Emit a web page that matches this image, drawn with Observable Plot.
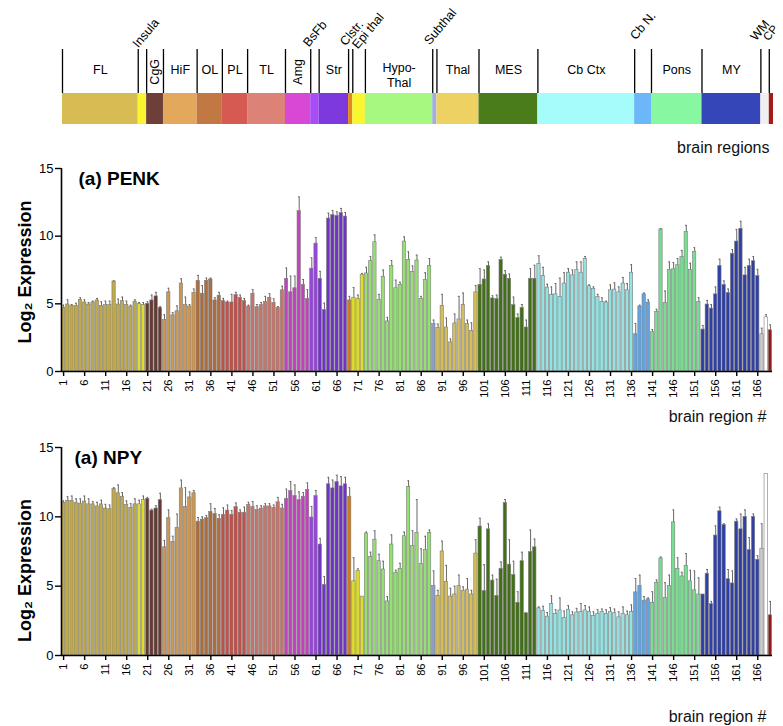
<!DOCTYPE html>
<html><head><meta charset="utf-8">
<script src="https://cdn.jsdelivr.net/npm/d3@7"></script>
<script src="https://cdn.jsdelivr.net/npm/@observablehq/plot@0.6"></script>
<style>
body{margin:0;background:#fff;}
#wrap{width:783px;}
#wrap svg{display:block;}
</style></head><body><div id="wrap"></div>
<script>
// ---------- data ----------
const regionNames = ["FL","Insula","CgG","HiF","OL","PL","TL","Amg","BsFb","Str","Clstr.","Epi thal","Hypo-\nThal","Subthal","Thal","MES","Cb Ctx","Cb N.","Pons","MY","WM","CP"];
const regionFirst = [1,19,21,25,33,39,45,54,60,62,69,70,73,89,90,100,114,137,141,153,167,169];
const regionColors = ["#d6bc52","#f9f52e","#6e3f38","#e4a85c","#c27842","#d65a52","#dc8276","#d948d4","#a84cf5","#7d38de","#e5881c","#f9f52e","#a6f880","#9fb0dc","#edd263","#4a7d1a","#a6fbfb","#6cb6fa","#88f7a2","#3446b8","#efefef","#a41c18"];
const regionLabelKind = ["h","r","v","h","h","h","h","v","r","h","r","r","h","r","h","h","h","r","h","h","r","r"];
const wmBarFills = ["#cdcdcd","#ffffff"];

const penk = [
4.7,4.95,4.85,4.85,5.3,5.1,4.95,5.1,5.25,4.85,
4.9,4.9,6.65,4.95,5.2,4.9,4.8,5.15,5.0,4.9,
5.0,5.25,5.55,4.7,3.8,5.85,4.15,4.45,6.5,4.9,
4.8,5.8,6.7,5.75,6.7,6.8,5.25,5.6,5.2,5.1,
5.1,5.65,5.45,5.2,4.8,5.75,4.75,4.9,5.15,5.45,
5.07,4.7,6.0,6.85,5.85,6.15,11.85,6.4,5.35,7.6,
9.45,6.85,4.55,11.3,11.55,11.5,11.7,11.45,5.25,5.45,
5.35,7.15,7.25,8.15,9.55,5.3,7.0,3.7,7.8,6.15,
6.4,9.6,8.25,7.35,8.2,5.35,6.75,7.8,3.5,3.2,
4.85,3.25,2.15,3.55,3.85,4.9,3.5,3.0,5.85,6.4,
6.8,7.8,5.4,5.35,8.25,7.15,6.85,4.9,3.95,4.7,
3.25,6.85,6.85,7.95,7.05,6.2,5.65,5.7,5.5,6.5,
7.3,7.1,7.5,7.3,8.3,6.3,6.1,5.5,5.15,5.1,
6.0,6.05,5.85,6.5,6.0,7.3,2.75,4.8,5.7,5.1,
2.9,4.4,10.5,5.05,7.5,7.55,7.85,8.45,10.3,7.5,
8.85,5.15,3.1,4.95,4.65,5.7,7.8,6.4,5.8,8.7,
9.6,10.55,7.1,7.8,8.15,7.05,2.75,4.0,3.05];
const penkErr = [
0.2,0.35,0.1,0.2,0.15,0.2,0.15,0.1,0.15,0.3,
0.3,0.3,0.05,0.4,0.3,0.3,0.1,0.15,0.1,0.2,
0.15,0.4,0.3,0.1,0.4,0.3,0.2,0.4,0.35,0.6,
0.15,0.3,0.4,0.6,0.2,0.1,0.2,0.25,0.2,0.1,
0.6,0.2,0.2,0.2,0.1,0.3,0.2,0.2,0.4,0.3,
0.3,0.1,0.3,0.8,1.2,0.9,1.05,0.4,0.7,0.8,
0.45,0.55,0.5,0.4,0.35,0.3,0.35,0.3,0.3,0.75,
0.3,0.1,0.45,0.35,0.55,0.4,0.5,0.3,0.4,0.6,
0.2,0.35,0.6,0.45,0.4,0.2,0.55,0.55,0.3,0.3,
0.85,0.7,0.25,0.7,1.7,0.9,0.3,0.6,0.5,1.2,
0.7,0.3,0.2,0.3,0.2,0.3,0.35,0.6,0.3,0.25,
0.55,0.75,1.0,0.6,0.65,0.25,0.6,0.8,1.4,0.8,
0.3,0.4,0.6,0.8,0.2,0.1,0.15,0.2,0.3,0.1,
0.4,0.5,0.4,0.45,0.5,0.6,0.8,0.1,0.1,0.2,
0.2,0.2,0.05,0.9,0.6,0.5,0.5,0.5,0.5,0.5,
0.3,0.3,0.3,0.3,0.3,0.55,0.5,0.3,0.3,0.3,
0.9,0.55,0.6,0.5,0.35,0.5,0.45,0.2,0.4];

const npy = [
11.0,11.15,11.15,11.0,10.95,11.1,10.9,10.9,10.75,10.9,
10.6,10.55,12.0,11.7,11.45,10.85,10.65,10.9,10.9,11.2,
11.3,10.45,10.6,11.2,7.8,9.9,8.2,9.2,12.05,10.7,
11.4,11.7,9.65,9.8,9.9,10.35,10.2,9.85,10.15,10.45,
10.15,10.7,10.3,10.3,10.85,10.7,10.5,10.6,10.75,10.75,
10.65,11.05,10.6,11.3,11.85,11.5,11.2,11.45,11.95,9.95,
11.5,8.0,5.1,12.35,12.05,12.5,12.2,12.35,11.45,5.35,
6.1,4.25,8.8,7.1,8.35,6.8,6.2,3.9,8.0,5.95,
6.25,8.6,12.15,7.9,8.85,6.6,7.6,8.85,5.0,4.3,
7.5,5.3,4.25,4.4,5.0,4.65,4.75,4.4,7.35,9.3,
4.65,9.1,5.4,4.3,6.25,11.0,6.55,5.8,3.8,6.8,
3.05,7.45,7.8,3.4,3.2,2.8,3.7,3.0,3.25,2.7,
3.3,2.9,3.1,3.15,3.25,3.15,2.85,3.0,3.15,3.0,
3.15,3.05,2.75,3.0,2.9,3.15,4.55,5.0,3.95,4.05,
3.8,5.25,7.0,4.15,5.0,9.6,6.25,5.7,6.45,5.35,
4.7,4.4,4.4,5.9,3.7,8.65,10.4,9.4,5.5,5.2,
9.65,9.1,10.0,7.6,10.0,6.9,7.7,13.1,2.9];
const npyErr = [
0.15,0.3,0.35,0.3,0.35,0.4,0.4,0.2,0.3,0.3,
0.3,0.3,0.1,0.6,0.3,0.3,0.3,0.4,0.3,0.3,
0.1,0.1,0.2,0.5,0.5,0.6,0.4,1.0,0.6,1.4,
0.4,0.2,0.3,0.2,0.2,0.6,0.4,0.3,0.5,0.4,
0.3,0.3,0.2,0.4,0.2,0.4,0.3,0.2,0.2,0.2,
0.2,0.35,0.3,0.7,0.7,0.8,0.6,0.3,0.5,0.8,
0.4,0.45,0.6,0.5,0.6,0.5,0.7,0.5,0.65,1.7,
0.15,0.0,0.1,0.35,0.65,0.5,0.6,0.35,0.7,0.2,
0.4,0.3,0.45,1.1,2.4,1.1,1.0,0.2,1.1,0.4,
0.75,1.2,0.6,0.6,0.8,0.3,0.8,0.3,1.0,0.6,
1.9,0.4,0.4,1.2,0.5,0.25,1.8,1.0,0.8,0.65,
0.0,1.6,0.6,0.1,0.35,0.3,0.6,0.3,0.9,0.5,
0.3,0.25,0.3,0.6,0.35,0.35,0.3,0.3,0.2,0.3,
0.3,0.3,0.4,0.5,0.3,0.5,1.0,0.8,0.3,0.1,
0.8,0.2,0.1,1.1,0.8,0.9,0.8,0.3,0.9,0.8,
1.4,1.2,0.0,0.3,0.2,0.7,0.3,0.1,0.7,0.9,
0.2,1.1,0.5,0.9,0.2,0.3,1.8,0.0,1.0];

const xTickValues = [1,6,11,16,21,26,31,36,41,46,51,56,61,66,71,76,81,86,91,96,101,106,111,116,121,126,131,136,141,146,151,156,161,166];
const yTickValues = [0,5,10,15];

// ---------- layout tweaks for the slanted region labels (px) ----------
const slantNudge = {
  "Insula": [0, 0], "BsFb": [-2, -1], "Clstr.": [-3, -2], "Epi thal": [5, 1],
  "Subthal": [-3, -3], "Cb N.": [1, -8], "WM": [-5, -7], "CP": [-1, -7]
};

// ---------- derived tables ----------
const nBars = penk.length;
const regions = regionNames.map((name, k) => ({
  name,
  first: regionFirst[k],
  last: k + 1 < regionFirst.length ? regionFirst[k + 1] - 1 : nBars,
  color: regionColors[k],
  kind: regionLabelKind[k]
}));
function regionOf(n) {
  let r = regions[0];
  for (const g of regions) if (n >= g.first) r = g;
  return r;
}
function barFill(n) {
  const reg = regionOf(n);
  if (reg.name === "WM") return wmBarFills[n - reg.first];
  return d3.color(reg.color).darker(0.3).formatHex();
}
const FONT = "'Liberation Sans', Arial, Helvetica, sans-serif";
const wrap = document.getElementById("wrap");

// ---------- region strip ----------
const slanted = regions.filter(d => d.kind === "r");
const strip = Plot.plot({
  width: 783, height: 155,
  marginLeft: 62, marginRight: 10, marginTop: 93, marginBottom: 31,
  x: {domain: [0.5, nBars + 0.5], axis: null},
  y: {domain: [0, 1], axis: null},
  style: {fontFamily: FONT, background: "white", overflow: "visible"},
  marks: [
    Plot.rect(regions, {x1: d => d.first - 0.5, x2: d => d.last + 0.5, y1: 0, y2: 1, fill: "color"}),
    Plot.ruleX(regions, {x: d => d.first - 0.5, y1: 1, y2: 2.42, stroke: "black", strokeWidth: 1.3}),
    Plot.text(regions.filter(d => d.kind === "h"), {
      x: d => (d.first + d.last) / 2, y: d => d.name.includes("\n") ? 1.6 : 1.8,
      text: "name", fontSize: 12.5, lineHeight: 1.2, fill: "black"
    }),
    Plot.text(regions.filter(d => d.kind === "v"), {
      x: d => (d.first + d.last) / 2, y: 1.7, rotate: -90,
      text: "name", fontSize: 12.5, fill: "black"
    }),
    ...slanted.map(d => Plot.text([d], {
      x: d.first - 0.5, y: 2.42, rotate: -50, textAnchor: "start", lineAnchor: "bottom",
      dx: slantNudge[d.name][0], dy: slantNudge[d.name][1] - 1,
      text: "name", fontSize: d.name === "CP" ? 11.5 : 12.5, fill: "black"
    })),
    Plot.text(["brain regions"], {text: d => d, frameAnchor: "bottom-right", lineAnchor: "middle",
      textAnchor: "end", dx: -4, dy: 23, fontSize: 16, fill: "#111"})
  ]
});
wrap.appendChild(strip);

// ---------- bar charts ----------
function barChart(values, errs, title, opts) {
  const data = values.map((v, k) => ({n: k + 1, v, e: errs[k], fill: barFill(k + 1)}));
  return Plot.plot({
    width: 783, height: opts.height,
    marginLeft: 61, marginRight: 11, marginTop: opts.marginTop, marginBottom: opts.marginBottom,
    x: {domain: [0.5, nBars + 0.5], axis: null},
    y: {domain: [0, 15], axis: null},
    style: {fontFamily: FONT, background: "white", overflow: "visible"},
    marks: [
      Plot.rect(data, {x1: d => d.n - 0.5, x2: d => d.n + 0.5, y1: 0, y2: "v", fill: "fill",
        stroke: "#7c7c7c", strokeWidth: 0.6, insetLeft: 0.45, insetRight: 0.45}),
      Plot.ruleX(data, {x: "n", y1: "v", y2: d => d.v + d.e, stroke: "#666", strokeWidth: 1}),
      Plot.ruleY(data.filter(d => d.e > 0), {y: d => d.v + d.e, x1: d => d.n - 0.18, x2: d => d.n + 0.18, stroke: "#666", strokeWidth: 1}),
      Plot.ruleX([0.5], {y1: 0, y2: 15, stroke: "black", strokeWidth: 1.6}),
      Plot.ruleY([0], {x1: 0.5, x2: nBars + 0.5, stroke: "black", strokeWidth: 1.6}),
      Plot.axisY({ticks: yTickValues, tickSize: 6, tickPadding: 2, fontSize: 13, label: null, strokeWidth: 1.4}),
      Plot.axisX({ticks: xTickValues, tickSize: 5, tickPadding: 3, tickRotate: -90, fontSize: 11, label: null, strokeWidth: 1.4}),
      Plot.text([title], {text: d => d, frameAnchor: "top-left", textAnchor: "start", lineAnchor: "top",
        dx: opts.titleDx, dy: 3, fontSize: 19, fontWeight: "bold", fill: "black"}),
      Plot.text(["Log₂ Expression"], {text: d => d, frameAnchor: "left", rotate: -90, textAnchor: "middle",
        lineAnchor: "middle", dx: -36, dy: opts.ylabDy, fontSize: 18, fontWeight: "bold", fill: "black"}),
      Plot.text(["brain region #"], {text: d => d, frameAnchor: "bottom-right", textAnchor: "end",
        lineAnchor: "middle", dx: -6, dy: opts.xlabDy, fontSize: 16, fill: "#111"})
    ]
  });
}

wrap.appendChild(barChart(penk, penkErr, "(a) PENK",
  {height: 270, marginTop: 13, marginBottom: 54, titleDx: 17, ylabDy: 2, xlabDy: 45}));
wrap.appendChild(barChart(npy, npyErr, "(a) NPY",
  {height: 301, marginTop: 22, marginBottom: 71, titleDx: 13, ylabDy: 19, xlabDy: 61}));
</script>
</body></html>
